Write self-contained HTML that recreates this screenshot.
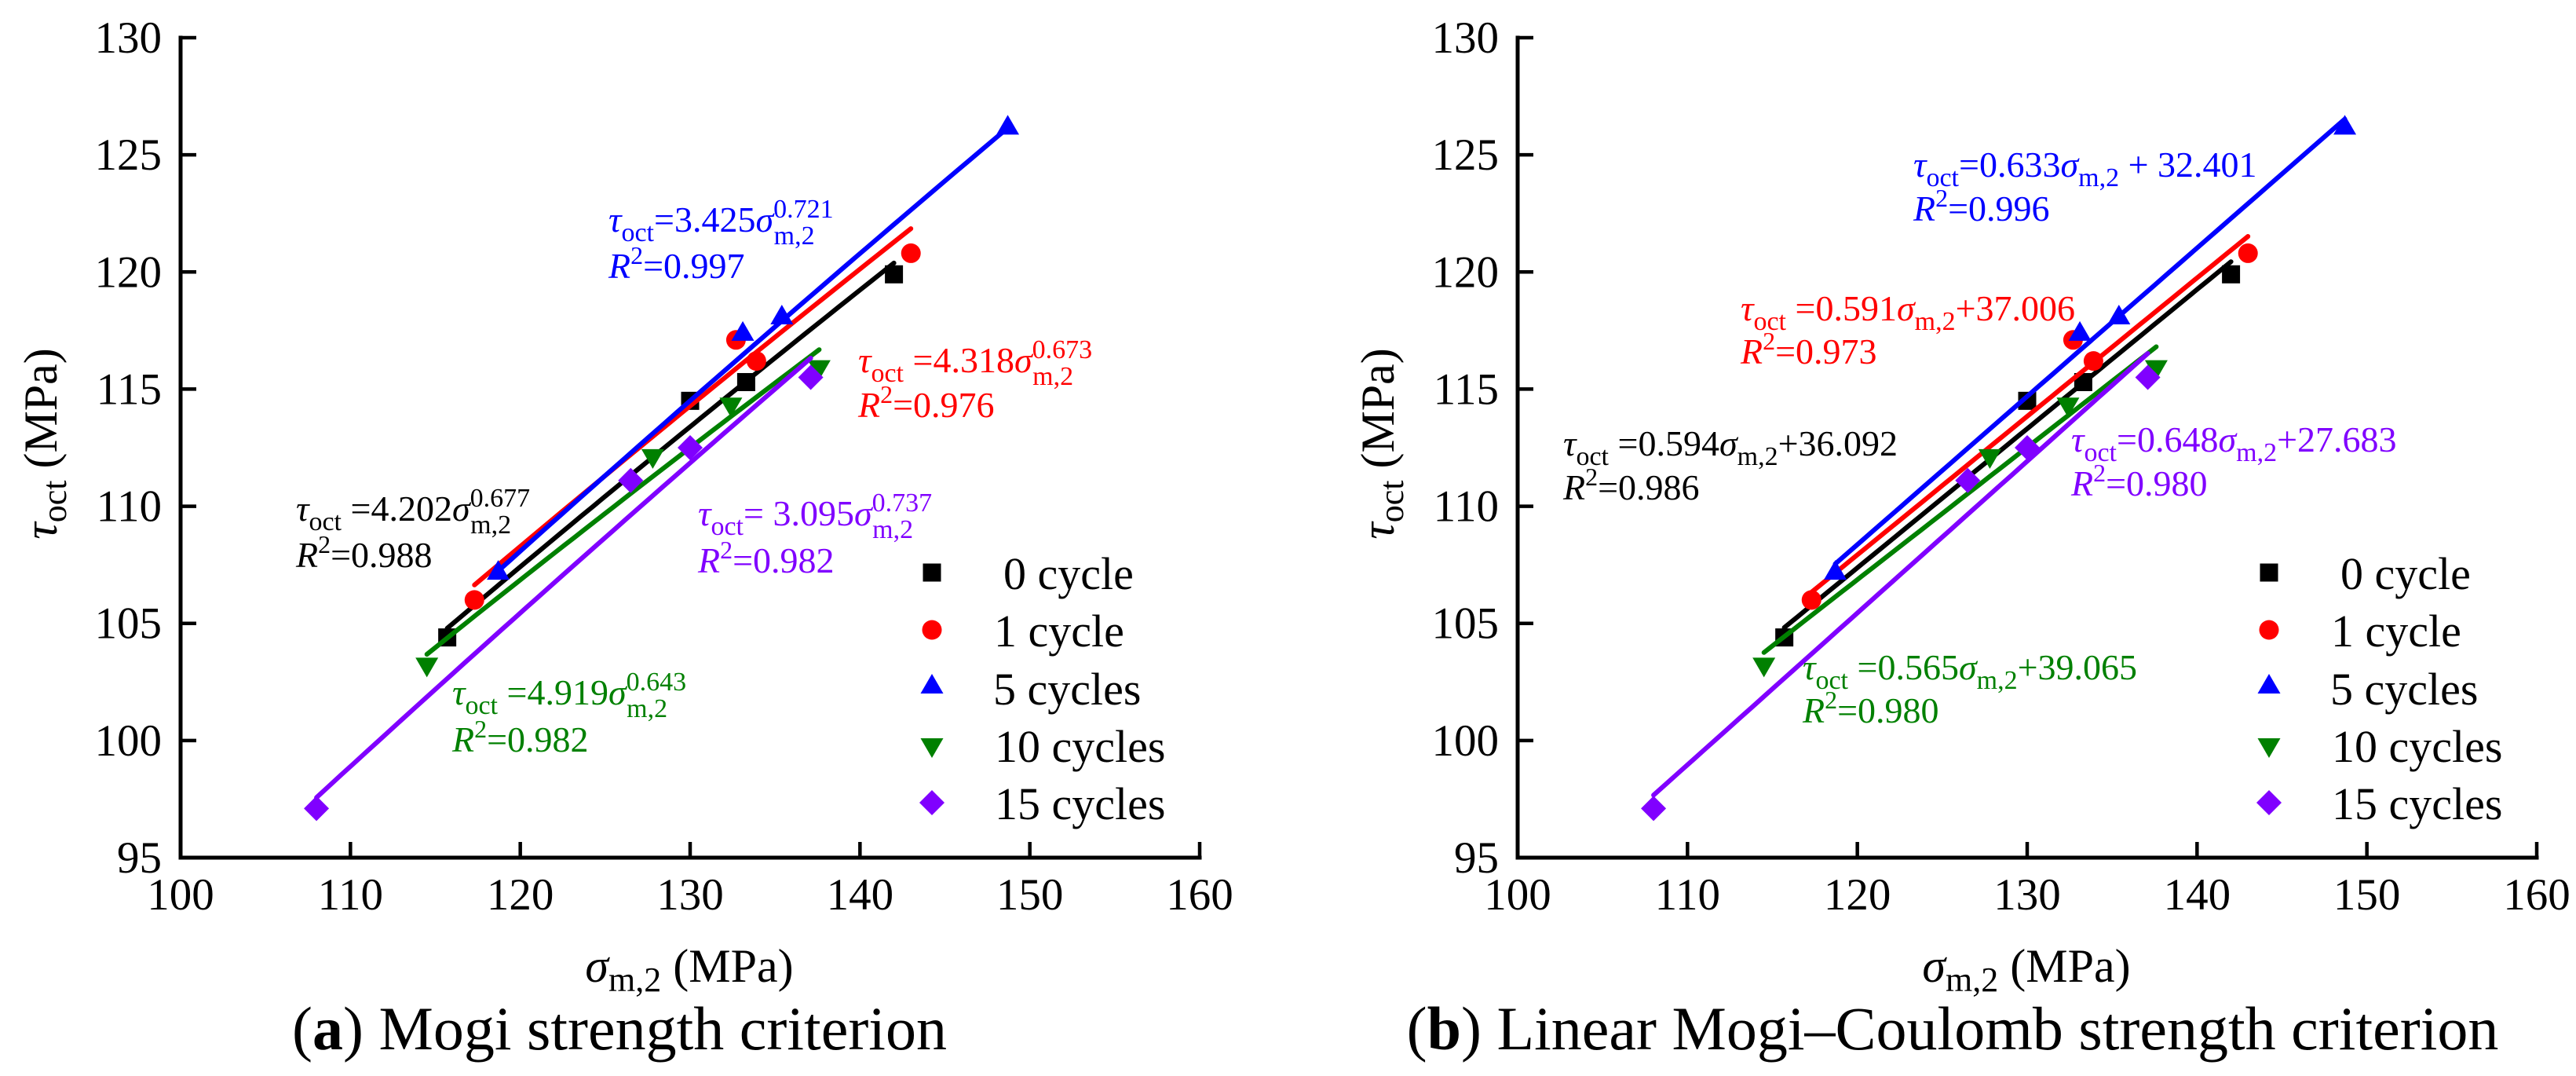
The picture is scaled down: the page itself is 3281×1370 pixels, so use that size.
<!DOCTYPE html>
<html><head><meta charset="utf-8"><style>
html,body{margin:0;padding:0;background:#fff;}
*{font-family:"Liberation Serif","DejaVu Serif",serif !important;}
svg{display:block;}
svg text, svg tspan{font-family:"Liberation Serif","DejaVu Serif",serif !important;}
</style></head><body>
<svg id="fig" width="3281" height="1370" viewBox="0 0 3281 1370" xmlns="http://www.w3.org/2000/svg" style="font-family:'Liberation Serif','DejaVu Serif',serif">
<rect width="3281" height="1370" fill="#fff"/>
<g id="panelA"></g>
<g id="panelB" transform="translate(1703,0)"></g>

<g>
  <text transform="translate(72,565) rotate(-90)" text-anchor="middle" font-size="60"><tspan font-style="italic">τ</tspan><tspan font-size="44" dy="12">oct</tspan><tspan dy="-12"> (MPa)</tspan></text>
  <text x="878" y="1250" text-anchor="middle" font-size="60"><tspan font-style="italic">σ</tspan><tspan font-size="44" dy="12">m,2</tspan><tspan dy="-12"> (MPa)</tspan></text>
  <text x="789" y="1336" text-anchor="middle" font-size="78">(<tspan font-weight="bold">a</tspan>) Mogi strength criterion</text>

  <text x="775" y="295" fill="#0000ff" font-size="46"><tspan font-style="italic">τ</tspan><tspan font-size="34" dy="12">oct</tspan><tspan dy="-12">=3.425</tspan><tspan font-style="italic">σ</tspan><tspan font-size="34" dy="-18">0.721</tspan><tspan font-size="34" dx="-76" dy="34">m,2</tspan></text>
  <text x="775" y="354" fill="#0000ff" font-size="46"><tspan font-style="italic">R</tspan><tspan font-size="32" dy="-18">2</tspan><tspan dy="18">=0.997</tspan></text>

  <text x="1093" y="474" fill="#ff0000" font-size="46"><tspan font-style="italic">τ</tspan><tspan font-size="34" dy="12">oct</tspan><tspan dy="-12"> =4.318</tspan><tspan font-style="italic">σ</tspan><tspan font-size="34" dy="-18">0.673</tspan><tspan font-size="34" dx="-76" dy="34">m,2</tspan></text>
  <text x="1093" y="531" fill="#ff0000" font-size="46"><tspan font-style="italic">R</tspan><tspan font-size="32" dy="-18">2</tspan><tspan dy="18">=0.976</tspan></text>

  <text x="377" y="663" fill="#000" font-size="46"><tspan font-style="italic">τ</tspan><tspan font-size="34" dy="12">oct</tspan><tspan dy="-12"> =4.202</tspan><tspan font-style="italic">σ</tspan><tspan font-size="34" dy="-18">0.677</tspan><tspan font-size="34" dx="-76" dy="34">m,2</tspan></text>
  <text x="377" y="722" fill="#000" font-size="46"><tspan font-style="italic">R</tspan><tspan font-size="32" dy="-18">2</tspan><tspan dy="18">=0.988</tspan></text>

  <text x="889" y="669" fill="#8000ff" font-size="46"><tspan font-style="italic">τ</tspan><tspan font-size="34" dy="12">oct</tspan><tspan dy="-12">= 3.095</tspan><tspan font-style="italic">σ</tspan><tspan font-size="34" dy="-18">0.737</tspan><tspan font-size="34" dx="-76" dy="34">m,2</tspan></text>
  <text x="889" y="729" fill="#8000ff" font-size="46"><tspan font-style="italic">R</tspan><tspan font-size="32" dy="-18">2</tspan><tspan dy="18">=0.982</tspan></text>

  <text x="576" y="897" fill="#008000" font-size="46"><tspan font-style="italic">τ</tspan><tspan font-size="34" dy="12">oct</tspan><tspan dy="-12"> =4.919</tspan><tspan font-style="italic">σ</tspan><tspan font-size="34" dy="-18">0.643</tspan><tspan font-size="34" dx="-76" dy="34">m,2</tspan></text>
  <text x="576" y="957" fill="#008000" font-size="46"><tspan font-style="italic">R</tspan><tspan font-size="32" dy="-18">2</tspan><tspan dy="18">=0.982</tspan></text>

  <g font-size="58">
    <text x="1278" y="750">0 cycle</text>
    <text x="1266" y="823">1 cycle</text>
    <text x="1265" y="897">5 cycles</text>
    <text x="1267" y="970">10 cycles</text>
    <text x="1267" y="1043">15 cycles</text>
  </g>
</g>

<g>
  <text transform="translate(1775,565) rotate(-90)" text-anchor="middle" font-size="60"><tspan font-style="italic">τ</tspan><tspan font-size="44" dy="12">oct</tspan><tspan dy="-12"> (MPa)</tspan></text>
  <text x="2581" y="1250" text-anchor="middle" font-size="60"><tspan font-style="italic">σ</tspan><tspan font-size="44" dy="12">m,2</tspan><tspan dy="-12"> (MPa)</tspan></text>
  <text x="2487" y="1336" text-anchor="middle" font-size="78">(<tspan font-weight="bold">b</tspan>) Linear Mogi–Coulomb strength criterion</text>

  <text x="2437" y="225" fill="#0000ff" font-size="46"><tspan font-style="italic">τ</tspan><tspan font-size="34" dy="12">oct</tspan><tspan dy="-12">=0.633</tspan><tspan font-style="italic">σ</tspan><tspan font-size="34" dy="12">m,2</tspan><tspan dy="-12"> + 32.401</tspan></text>
  <text x="2437" y="281" fill="#0000ff" font-size="46"><tspan font-style="italic">R</tspan><tspan font-size="32" dy="-18">2</tspan><tspan dy="18">=0.996</tspan></text>

  <text x="2217" y="408" fill="#ff0000" font-size="46"><tspan font-style="italic">τ</tspan><tspan font-size="34" dy="12">oct</tspan><tspan dy="-12"> =0.591</tspan><tspan font-style="italic">σ</tspan><tspan font-size="34" dy="12">m,2</tspan><tspan dy="-12">+37.006</tspan></text>
  <text x="2217" y="463" fill="#ff0000" font-size="46"><tspan font-style="italic">R</tspan><tspan font-size="32" dy="-18">2</tspan><tspan dy="18">=0.973</tspan></text>

  <text x="1991" y="580" fill="#000" font-size="46"><tspan font-style="italic">τ</tspan><tspan font-size="34" dy="12">oct</tspan><tspan dy="-12"> =0.594</tspan><tspan font-style="italic">σ</tspan><tspan font-size="34" dy="12">m,2</tspan><tspan dy="-12">+36.092</tspan></text>
  <text x="1991" y="636" fill="#000" font-size="46"><tspan font-style="italic">R</tspan><tspan font-size="32" dy="-18">2</tspan><tspan dy="18">=0.986</tspan></text>

  <text x="2638" y="575" fill="#8000ff" font-size="46"><tspan font-style="italic">τ</tspan><tspan font-size="34" dy="12">oct</tspan><tspan dy="-12">=0.648</tspan><tspan font-style="italic">σ</tspan><tspan font-size="34" dy="12">m,2</tspan><tspan dy="-12">+27.683</tspan></text>
  <text x="2638" y="631" fill="#8000ff" font-size="46"><tspan font-style="italic">R</tspan><tspan font-size="32" dy="-18">2</tspan><tspan dy="18">=0.980</tspan></text>

  <text x="2296" y="865" fill="#008000" font-size="46"><tspan font-style="italic">τ</tspan><tspan font-size="34" dy="12">oct</tspan><tspan dy="-12"> =0.565</tspan><tspan font-style="italic">σ</tspan><tspan font-size="34" dy="12">m,2</tspan><tspan dy="-12">+39.065</tspan></text>
  <text x="2296" y="920" fill="#008000" font-size="46"><tspan font-style="italic">R</tspan><tspan font-size="32" dy="-18">2</tspan><tspan dy="18">=0.980</tspan></text>

  <g font-size="58">
    <text x="2981" y="750">0 cycle</text>
    <text x="2969" y="823">1 cycle</text>
    <text x="2968" y="897">5 cycles</text>
    <text x="2970" y="970">10 cycles</text>
    <text x="2970" y="1043">15 cycles</text>
  </g>
</g>
</svg>
<script>
// ---- data ----
const xTicks = [100, 110, 120, 130, 140, 150, 160];
const yTicks = [95, 100, 105, 110, 115, 120, 125, 130];
const seriesNames = ["0 cycle", "1 cycle", "5 cycles", "10 cycles", "15 cycles"];
const s0x = [115.7, 130.0, 133.3, 142.0];
const s0y = [104.4, 114.5, 115.3, 119.9];
const s1x = [117.3, 132.7, 133.9, 143.0];
const s1y = [106.0, 117.1, 116.2, 120.8];
const s5x = [118.7, 133.1, 135.4, 148.7];
const s5y = [107.2, 117.4, 118.1, 126.2];
const s10x = [114.5, 127.8, 132.4, 137.6];
const s10y = [103.2, 112.1, 114.3, 115.9];
const s15x = [108.0, 126.5, 130.0, 137.1];
const s15y = [97.1, 111.1, 112.5, 115.5];
const powA = [4.202, 4.318, 3.425, 4.919, 3.095];
const powB = [0.677, 0.673, 0.721, 0.643, 0.737];
const linK = [0.594, 0.591, 0.633, 0.565, 0.648];
const linC = [36.092, 37.006, 32.401, 39.065, 27.683];

const XS = [s0x, s1x, s5x, s10x, s15x];
const YS = [s0y, s1y, s5y, s10y, s15y];
const colors = ["#000000", "#ff0000", "#0000ff", "#008000", "#8000ff"];
const shapes = ["square", "circle", "up", "down", "diamond"];
const slugs = ["0-cycle", "1-cycle", "5-cycles", "10-cycles", "15-cycles"];

const NS = "http://www.w3.org/2000/svg";
const X0 = 230, X1 = 1528, Y0 = 1092, Y1 = 48;
function xs(v) { return X0 + (v - 100) / 60 * (X1 - X0); }
function ys(v) { return Y0 - (v - 95) / 35 * (Y0 - Y1); }

function mk(tag, attrs, parent) {
  const e = document.createElementNS(NS, tag);
  for (const k in attrs) e.setAttribute(k, attrs[k]);
  parent.appendChild(e);
  return e;
}

function marker(g, shape, cx, cy, color) {
  let el;
  if (shape === "square") el = mk("rect", {x: cx - 11.5, y: cy - 11.5, width: 23, height: 23, fill: color}, g);
  else if (shape === "circle") el = mk("circle", {cx: cx, cy: cy, r: 12.5, fill: color}, g);
  else if (shape === "up") el = mk("polygon", {points: `${cx},${cy - 15} ${cx + 14.5},${cy + 10} ${cx - 14.5},${cy + 10}`, fill: color}, g);
  else if (shape === "down") el = mk("polygon", {points: `${cx},${cy + 15} ${cx + 14.5},${cy - 10} ${cx - 14.5},${cy - 10}`, fill: color}, g);
  else el = mk("polygon", {points: `${cx},${cy - 16} ${cx + 16},${cy} ${cx},${cy + 16} ${cx - 16},${cy}`, fill: color}, g);
  return el;
}

function buildPanel(g, kind, tag) {
  const axes = mk("g", {}, g);
  
  
  const ax = mk("path", {d: `M${X0},${Y1} L${X0},${Y0} L${X1},${Y0}`, fill: "none", stroke: "#000", "stroke-width": 5, "stroke-linecap": "square"}, axes);
  
  
  xTicks.forEach(t => {
    const x = xs(t);
    const tk = mk("line", {x1: x, y1: Y0, x2: x, y2: Y0 - 20, stroke: "#000", "stroke-width": 4.5}, axes);
    
    
    const lb = mk("text", {x: x, y: Y0 + 66, "text-anchor": "middle", "font-size": 57, style: "font-family:'Liberation Serif','DejaVu Serif',serif"}, axes);
    lb.textContent = String(t);
    
    
  });
  yTicks.forEach(t => {
    const y = ys(t);
    const tk = mk("line", {x1: X0, y1: y, x2: X0 + 20, y2: y, stroke: "#000", "stroke-width": 4.5}, axes);
    
    
    const lb = mk("text", {x: X0 - 24, y: y + 19, "text-anchor": "end", "font-size": 57, style: "font-family:'Liberation Serif','DejaVu Serif',serif"}, axes);
    lb.textContent = String(t);
    
    
  });
  for (let i = 0; i < 5; i++) {
    const sg = mk("g", {}, g);
    
    
    XS[i].forEach((xv, j) => {
      const m = marker(sg, shapes[i], xs(xv), ys(YS[i][j]), colors[i]);
      
      
    });
    const lo = Math.min.apply(null, XS[i]), hi = Math.max.apply(null, XS[i]);
    let d = "";
    const N = 40;
    for (let k = 0; k <= N; k++) {
      const xv = lo + (hi - lo) * k / N;
      const yv = kind === "pow" ? powA[i] * Math.pow(xv, powB[i]) : linK[i] * xv + linC[i];
      d += (k ? "L" : "M") + xs(xv).toFixed(1) + "," + ys(yv).toFixed(1);
    }
    const fl = mk("path", {d: d, fill: "none", stroke: colors[i], "stroke-width": 6, "stroke-linecap": "round"}, sg);
    
    
  }
  const legY = [729, 802, 873, 950, 1022];
  for (let i = 0; i < 5; i++) {
    const m = marker(g, shapes[i], 1187, legY[i], colors[i]);
    
    
  }
}
buildPanel(document.getElementById("panelA"), "pow", "a");
buildPanel(document.getElementById("panelB"), "lin", "b");
</script>
</body></html>
